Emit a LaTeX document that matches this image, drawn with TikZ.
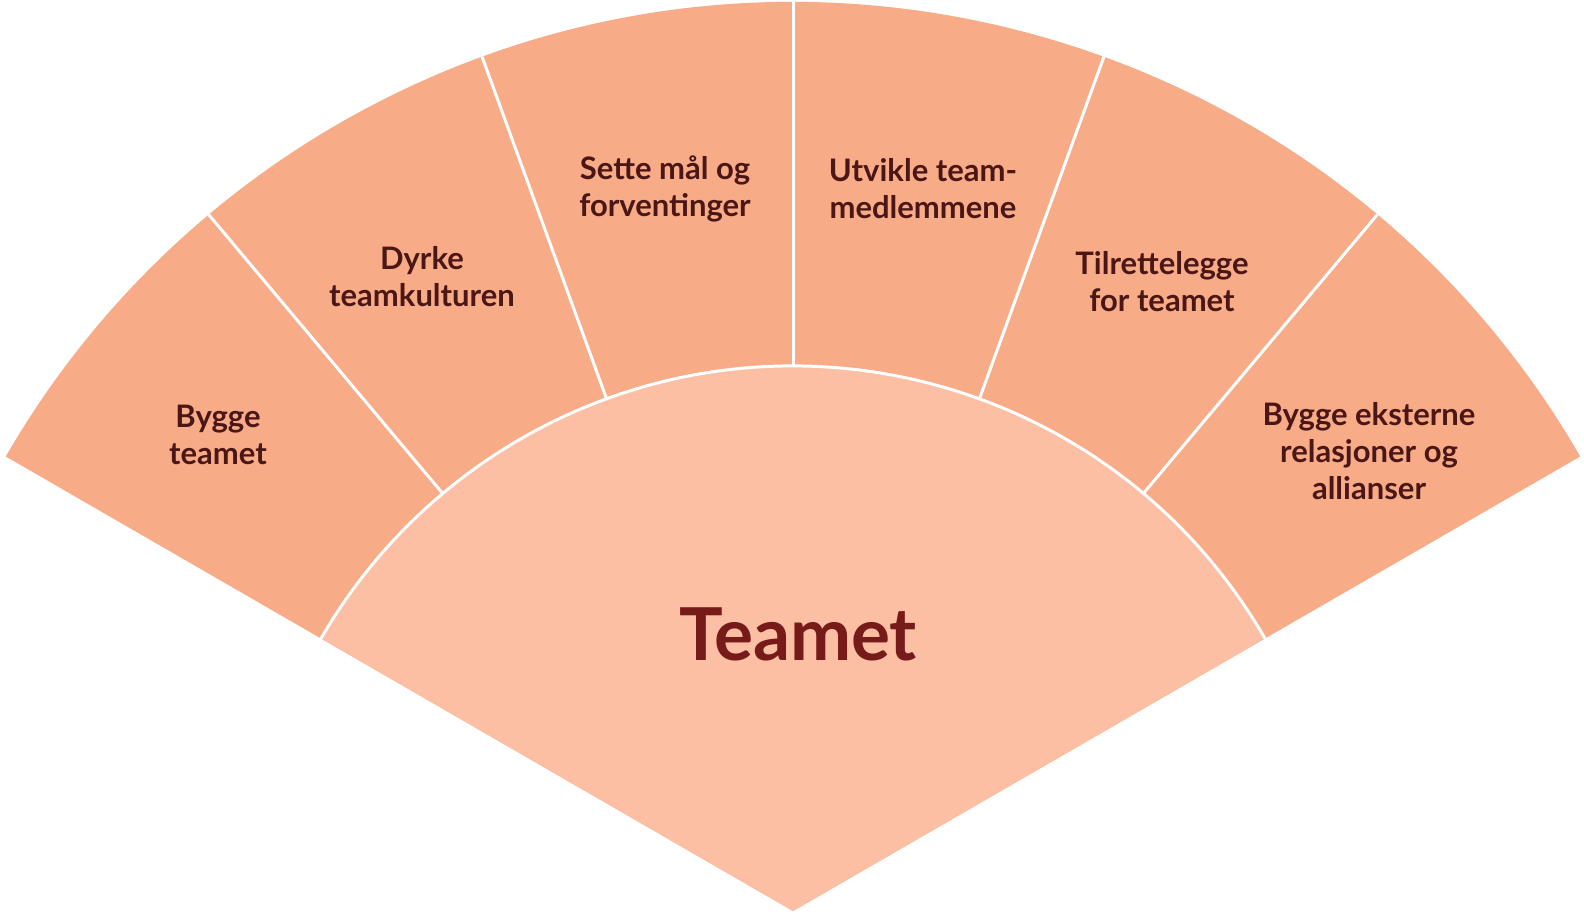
\documentclass[tikz,border=0pt]{standalone}
\usepackage{fontspec}
\setmainfont{Lato}
\definecolor{outerc}{HTML}{F8AB87}
\definecolor{innerc}{HTML}{FCBFA3}
\definecolor{labelc}{HTML}{4A1616}
\definecolor{centerc}{HTML}{761A1A}
\tikzset{
  seg/.style={fill=outerc},
  core/.style={fill=innerc},
  sep/.style={draw=white,line width=3pt},
  lbl/.style={align=center,text=labelc,font=\fontsize{31}{37}\selectfont\bfseries},
  big/.style={text=centerc,font=\fontsize{73}{80}\selectfont\bfseries}
}
\begin{document}
\begin{tikzpicture}[x=1pt,y=1pt]
\useasboundingbox (-793,-4) rectangle (791,911);
\coordinate (apex) at (0,0);
\fill[seg] (apex) -- (30:909) arc[start angle=30,end angle=150,radius=909] -- cycle;
\fill[core] (apex) -- (30:545) arc[start angle=30,end angle=150,radius=545] -- cycle;
\foreach \a in {50,70,90,110,130} \draw[sep] (\a:545) -- (\a:909);
\draw[sep] (30:545) arc[start angle=30,end angle=150,radius=545];
\node[lbl] (s1) at (-575,476) {Bygge\\teamet};
\node[lbl] (s2) at (-371,634) {Dyrke\\teamkulturen};
\node[lbl] (s3) at (-128,722) {Sette mål og\\forventinger};
\node[lbl] (s4) at (130,722) {Utvikle team-\\medlemmene};
\node[lbl] (s5) at (369,629) {Tilrettelegge\\for teamet};
\node[lbl] (s6) at (576,460) {Bygge eksterne\\relasjoner og\\allianser};
\node[big] (c) at (5,277) {Teamet};
\end{tikzpicture}
\end{document}
